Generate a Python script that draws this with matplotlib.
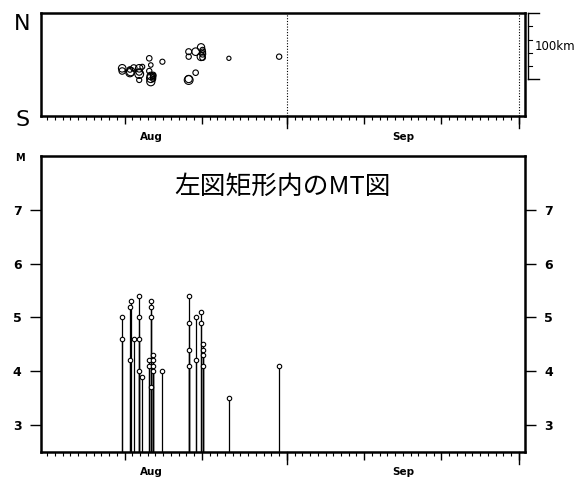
import numpy as np
import matplotlib

matplotlib.use("Agg")
import matplotlib.pyplot as plt
import matplotlib.transforms as mtransforms

plt.rcParams["font.family"] = ["Noto Sans CJK JP", "DejaVu Sans"]

# days counted from Aug 1 00:00; Sep 1 = 31, Oct 1 = 61
days = [9.7, 9.7, 10.7, 10.7, 10.8, 11.2, 11.9, 11.9, 11.9, 11.9, 12.3,
        13.2, 13.2, 13.4, 13.4, 13.4, 13.4, 13.7, 13.7, 13.7, 13.7, 14.9,
        18.3, 18.3, 18.3, 18.3, 19.2, 19.2, 19.9, 19.9, 20.1, 20.1, 20.1, 20.1,
        23.5, 30.0]
mags = [5.0, 4.6, 5.2, 4.2, 5.3, 4.6, 5.4, 5.0, 4.6, 4.0, 3.9,
        4.2, 4.1, 5.3, 5.2, 5.0, 3.7, 4.3, 4.2, 4.1, 4.0, 4.0,
        5.4, 4.9, 4.4, 4.1, 5.0, 4.2, 5.1, 4.9, 4.5, 4.4, 4.3, 4.1,
        3.5, 4.1]
# north-south position in km from the southern edge of the box
ns_km = [72.6, 68.5, 65.9, 70.8, 67.7, 73.1, 63.9, 72.6, 67.0, 54.8, 75.0,
         87.8, 68.5, 57.4, 52.2, 60.9, 77.6, 62.4, 60.9, 58.6, 56.3, 82.6,
         54.8, 56.3, 97.9, 90.3, 97.9, 65.9, 90.3, 104.6, 94.4, 97.4, 89.0, 100.5,
         87.8, 90.3]

month_labels = ["Aug", "Sep"]
month_label_pos = [13.5, 46.1]
month_starts = [31, 61]
mid_ticks = [10, 20, 41, 51]
mag_ticks = [3, 4, 5, 6, 7]

XLIM = (-0.8, 61.8)
NS_MAX = 156.3

fig = plt.figure(figsize=(5.81, 4.8), dpi=100, facecolor="white")
ax1 = fig.add_axes([0.0706, 0.7583, 0.833, 0.214])
ax2 = fig.add_axes([0.0706, 0.0583, 0.833, 0.617])


def time_axis(ax):
    ax.set_xlim(*XLIM)
    minor = [d for d in range(0, 62) if d not in month_starts and d not in mid_ticks]
    ax.set_xticks(minor, minor=True)
    ax.set_xticks(month_starts + mid_ticks)
    ax.set_xticklabels([])
    ax.tick_params(axis="x", which="minor", direction="out", length=3, width=0.8)
    ax.tick_params(axis="x", which="major", direction="out", length=6, width=1.0)
    # month boundaries get a longer tick (about 12 px)
    frac = 12.0 / (ax.get_position().height * fig.get_figheight() * fig.dpi)
    tr = mtransforms.blended_transform_factory(ax.transData, ax.transAxes)
    for d in month_starts:
        ax.plot([d, d], [0, -frac], color="black", lw=1.0, transform=tr, clip_on=False)
    for s in ax.spines.values():
        s.set_linewidth(1.8)


# --- top panel: time vs N-S position ---
time_axis(ax1)
ax1.set_ylim(0, NS_MAX)
ax1.set_yticks([])
for d in month_starts:
    ax1.axvline(d, color="black", lw=0.8, ls=(0, (1, 1.5)))
diam_px = 4.2 * 10 ** (0.17 * (np.array(mags) - 3.5))
ax1.scatter(days, ns_km, s=(diam_px * 0.72) ** 2, facecolors="none",
            edgecolors="black", linewidths=0.8, zorder=3)
lab_tr = mtransforms.blended_transform_factory(ax1.transData, ax1.transAxes)
for lab, pos in zip(month_labels, month_label_pos):
    ax1.text(pos, -0.2, lab, transform=lab_tr, ha="center", va="center",
             fontsize=7.5, fontweight="bold", family="DejaVu Sans")
fig.text(0.038, 0.95, "N", fontsize=16, ha="center", va="center", family="DejaVu Sans")
fig.text(0.038, 0.75, "S", fontsize=16, ha="center", va="center", family="DejaVu Sans")

# 100 km scale bar on the right
bar_tr = mtransforms.blended_transform_factory(ax1.transAxes, ax1.transData)
bx = 1.007
ax1.plot([bx, bx], [NS_MAX - 100, NS_MAX], color="black", lw=1.0,
         transform=bar_tr, clip_on=False)
for yk in [NS_MAX - 100, NS_MAX]:
    ax1.plot([bx, bx + 0.021], [yk, yk], color="black", lw=1.0,
             transform=bar_tr, clip_on=False)
for yk in np.arange(NS_MAX - 80, NS_MAX - 1, 20):
    ax1.plot([bx, bx + 0.008], [yk, yk], color="black", lw=0.8,
             transform=bar_tr, clip_on=False)
ax1.text(1.02, 105.5, "100km", transform=bar_tr, ha="left", va="center",
         fontsize=8.5, family="DejaVu Sans")

# --- bottom panel: M-T diagram ---
time_axis(ax2)
ax2.set_ylim(2.5, 8.0)
ax2.set_yticks(mag_ticks)
ax2.tick_params(axis="y", which="major", direction="out", length=8, width=1.0,
                left=True, right=True, labelleft=True, labelright=True, pad=6)
for t in ax2.get_yticklabels():
    t.set_fontweight("bold")
    t.set_fontsize(9)
    t.set_family("DejaVu Sans")
ax2.vlines(days, 2.5, mags, color="black", lw=0.9)
ax2.plot(days, mags, "o", ms=3.2, mfc="white", mec="black", mew=0.8, zorder=3)
lab_tr2 = mtransforms.blended_transform_factory(ax2.transData, ax2.transAxes)
for lab, pos in zip(month_labels, month_label_pos):
    ax2.text(pos, -0.066, lab, transform=lab_tr2, ha="center", va="center",
             fontsize=7.5, fontweight="bold", family="DejaVu Sans")
fig.text(0.034, 0.67, "M", fontsize=7, fontweight="bold", ha="center", va="center",
         family="DejaVu Sans")
ax2.text(0.5, 0.895, "左図矩形内のMT図", transform=ax2.transAxes, ha="center",
         va="center", fontsize=18.5)

fig.savefig("out.png", dpi=100, facecolor="white")
